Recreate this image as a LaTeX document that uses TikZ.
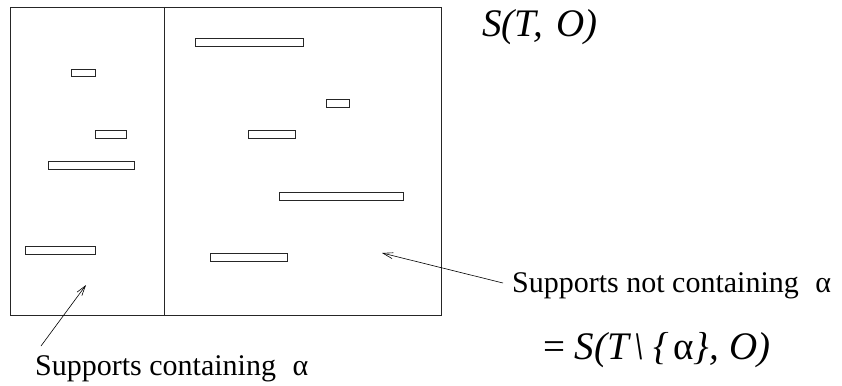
\documentclass[tikz,border=0pt]{standalone}
\usepackage{fontspec}
\setmainfont{Liberation Serif}
\usetikzlibrary{arrows.meta}
\begin{document}
\begin{tikzpicture}[x=1pt,y=-1pt,
  frame/.style={draw=black!85,line width=0.9pt},
  bar/.style={draw=black!85,line width=0.9pt},
  pointer/.style={draw=black,line width=0.6pt,-{Straight Barb[length=10pt,width=6pt,line width=0.6pt]}},
  lbl/.style={inner sep=0pt,font=\fontsize{30}{34}\selectfont},
  big/.style={inner sep=0pt,font=\fontsize{39}{44}\selectfont\itshape}]
\useasboundingbox (0,0) rectangle (842,385);
% outer frame and divider
\draw[frame] (10,7) rectangle (441,315);
\draw[frame] (164,7) -- (164,315);
% supports (bars)
\draw[bar] (195,38) rectangle (303,46);
\draw[bar] (71,69) rectangle (95,76);
\draw[bar] (326,99) rectangle (349,107);
\draw[bar] (95,130) rectangle (126,138);
\draw[bar] (248,130) rectangle (295,138);
\draw[bar] (48,161) rectangle (134,169);
\draw[bar] (279,192) rectangle (403,200);
\draw[bar] (25,246) rectangle (95,254);
\draw[bar] (210,253) rectangle (287,261);
% labels
\node[big,anchor=base west] (stoo) at (482,37) {S(T,\hspace{0.08em} O)};
\node[lbl,anchor=base west] (notc) at (512,292) {Supports not containing\hspace{0.55em}α};
\node[lbl,anchor=base west] (cont) at (35,375) {Supports containing\hspace{0.55em}α};
\node[big,anchor=base west] (eq) at (543,359) {{\upshape =} S(T\hspace{0.12em}\textbackslash\hspace{0.22em}\{\hspace{0.12em}{\upshape α}\}, O)};
% arrows
\coordinate (tailR) at (503,283);
\coordinate (tipR) at (382,253);
\coordinate (tailL) at (41,346);
\coordinate (tipL) at (86,285);
\draw[pointer] (tailR) -- (tipR);
\draw[pointer] (tailL) -- (tipL);
\end{tikzpicture}
\end{document}
